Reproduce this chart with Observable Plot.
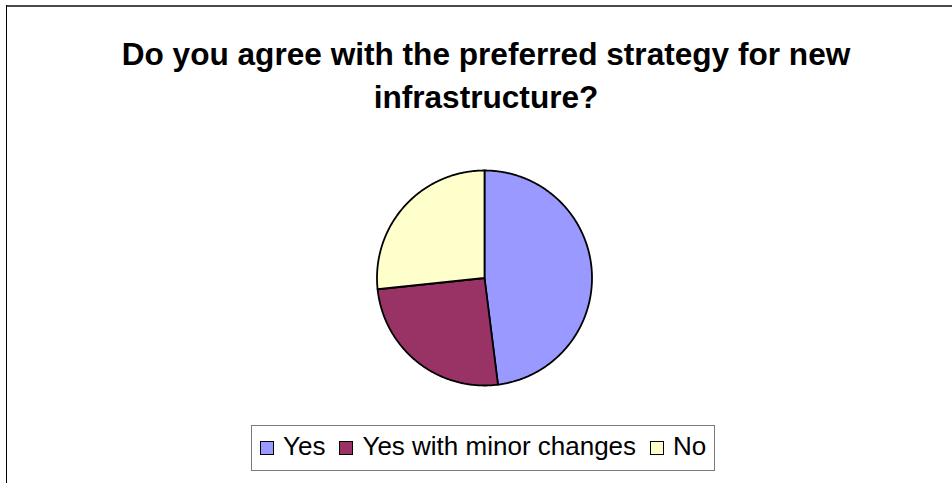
<!DOCTYPE html>
<html>
<head>
<meta charset="utf-8">
<script src="https://cdn.jsdelivr.net/npm/d3@7"></script>
<script src="https://cdn.jsdelivr.net/npm/@observablehq/plot@0.6"></script>
<style>
  html, body { margin: 0; padding: 0; background: #fff; }
  #wrap { position: relative; width: 952px; height: 483px; overflow: hidden; background: #fff; font-family: "Liberation Sans", Arial, sans-serif; }
  #frameTop { position: absolute; left: 6px; right: 0; top: 5px; height: 2px; background: #4a4a4a; }
  #frameLeft { position: absolute; left: 6px; top: 5px; bottom: 0; width: 1px; background: #000; }
  #title { position: absolute; left: 0; width: 972px; top: 33px; text-align: center; font-weight: bold; font-size: 31.6px; line-height: 42.8px; color: #000; }
  #chart { position: absolute; left: 0; top: 0; }
  #legend { position: absolute; left: 251px; top: 425px; height: 46px; box-sizing: border-box; border: 1px solid #7a7a7a; padding: 0 8px 0 8px; font-size: 26px; line-height: 40px; white-space: nowrap; background: #fff; }
  .sw { display: inline-block; width: 12px; height: 12px; border: 1px solid #000; vertical-align: baseline; margin-right: 9px; }
  .lab { margin-right: 14px; }
  .lab:last-child { margin-right: 0; }
</style>
</head>
<body>
<div id="wrap">
  <div id="chart"></div>
  <div id="frameTop"></div>
  <div id="frameLeft"></div>
  <div id="title">Do you agree with the preferred strategy for new<br>infrastructure?</div>
  <div id="legend"></div>
</div>
<script>
// ---- data ----
const categories = ["Yes", "Yes with minor changes", "No"];
const counts = [36, 19, 20];
const colors = ["#9999FF", "#993366", "#FFFFCC"];

// ---- build slice outlines from values (angles clockwise from 12 o'clock) ----
const total = d3.sum(counts);
const rows = [];
let acc = 0;
categories.forEach((cat, i) => {
  const a0 = acc / total * 2 * Math.PI;
  acc += counts[i];
  const a1 = acc / total * 2 * Math.PI;
  rows.push({cat, x: 0, y: 0});
  const n = Math.max(2, Math.ceil((a1 - a0) / (Math.PI / 360)));
  for (let k = 0; k <= n; k++) {
    const a = a0 + (a1 - a0) * k / n;
    rows.push({cat, x: Math.sin(a), y: Math.cos(a)});
  }
  rows.push({cat, x: 0, y: 0});
});

const W = 952, H = 483, cx = 484, cy = 277.5, R = 107.5;

const plot = Plot.plot({
  width: W,
  height: H,
  margin: 0,
  x: {domain: [-cx / R, (W - cx) / R], axis: null},
  y: {domain: [-(H - cy) / R, cy / R], axis: null},
  color: {domain: categories, range: colors},
  marks: [
    Plot.line(rows, {
      x: "x", y: "y", z: "cat",
      fill: "cat",
      stroke: "#000",
      strokeWidth: 1.8,
      strokeLinejoin: "round",
      curve: "linear"
    })
  ]
});
document.getElementById("chart").appendChild(plot);

// ---- legend ----
const lg = document.getElementById("legend");
categories.forEach((cat, i) => {
  const sw = document.createElement("span");
  sw.className = "sw";
  sw.style.background = colors[i];
  lg.appendChild(sw);
  const lb = document.createElement("span");
  lb.className = "lab";
  lb.textContent = cat;
  lg.appendChild(lb);
});
</script>
</body>
</html>
